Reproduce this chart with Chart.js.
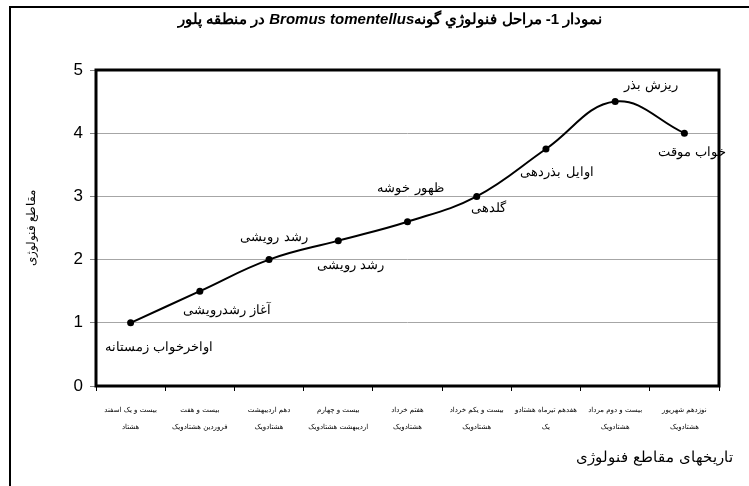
<!DOCTYPE html>
<html lang="fa">
<head>
<meta charset="utf-8">
<title>مراحل فنولوژی گونه Bromus tomentellus</title>
<script src="https://cdn.jsdelivr.net/npm/chart.js@4.4.1/dist/chart.umd.min.js"></script>
<style>
  html, body { margin: 0; padding: 0; background: #fff; }
  canvas { display: block; direction: rtl; }
</style>
</head>
<body>
<canvas id="chart" width="749" height="486"></canvas>
<script>
// dates of the phenological stages (two lines each)
const dateLabels = [
  ['بیست و یک اسفند', 'هشتاد'],
  ['بیست و هفت', 'فروردین هشتادویک'],
  ['دهم اردیبهشت', 'هشتادویک'],
  ['بیست و چهارم', 'اردیبهشت هشتادویک'],
  ['هفتم خرداد', 'هشتادویک'],
  ['بیست و یکم خرداد', 'هشتادویک'],
  ['هفدهم تیرماه هشتادو', 'یک'],
  ['بیست و دوم مرداد', 'هشتادویک'],
  ['نوزدهم شهریور', 'هشتادویک']
];
const stageValues = [1, 1.5, 2, 2.3, 2.6, 3, 3.75, 4.5, 4];
const stageNames = [
  'اواخرخواب زمستانه', 'آغاز رشدرویشی', 'رشد رویشی', 'رشد رویشی', 'ظهور خوشه',
  'گلدهی', 'اوایل بذردهی', 'ریزش بذر', 'خواب موقت'
];
const yMin = 0, yMax = 5, yStep = 1;

const titleParts = [
  { text: 'نمودار 1- مراحل فنولوژي گونه', font: 'bold 15px "Liberation Sans", Arial, sans-serif', dir: 'rtl' },
  { text: 'Bromus tomentellus', font: 'italic bold 15px "Liberation Sans", Arial, sans-serif', dir: 'ltr' },
  { text: ' در منطقه پلور', font: 'bold 15px "Liberation Sans", Arial, sans-serif', dir: 'rtl' }
];
const xTitle = 'تاریخهای مقاطع فنولوژی';

// text and frame drawing that Chart.js has no option for
const decorations = {
  id: 'decorations',
  beforeDraw(chart) {
    const { ctx } = chart;
    ctx.save();
    ctx.strokeStyle = '#000';
    ctx.lineWidth = 2;
    ctx.beginPath();
    ctx.moveTo(10, 486);
    ctx.lineTo(10, 7);
    ctx.lineTo(749, 7);
    ctx.stroke();
    ctx.restore();
  },
  afterDatasetsDraw(chart, args, opts) {
    const { ctx, chartArea: a } = chart;
    const xs = chart.scales.x, ys = chart.scales.y;
    ctx.save();

    // plot frame
    ctx.strokeStyle = '#000';
    ctx.lineWidth = 3;
    ctx.strokeRect(a.left, a.top, a.right - a.left, a.bottom - a.top);

    // stage names next to the points
    ctx.fillStyle = '#000';
    ctx.font = '13px "DejaVu Serif", "Liberation Serif", serif';
    ctx.textAlign = 'center';
    ctx.textBaseline = 'middle';
    ctx.direction = 'rtl';
    stageNames.forEach((name, i) => {
      const [dx, dy] = opts.labelOffsets[i];
      ctx.fillText(name, xs.getPixelForValue(i) + dx, ys.getPixelForValue(stageValues[i]) + dy);
    });

    // chart title, mixed fonts, laid out right to left
    let widths = titleParts.map(p => { ctx.font = p.font; return ctx.measureText(p.text).width; });
    let total = widths.reduce((s, w) => s + w, 0);
    let right = opts.titleCenter + total / 2;
    ctx.textAlign = 'right';
    titleParts.forEach((p, i) => {
      ctx.font = p.font;
      ctx.direction = p.dir;
      ctx.fillText(p.text, right, opts.titleY);
      right -= widths[i];
    });

    // x axis title
    ctx.font = '15px "DejaVu Serif", "Liberation Serif", serif';
    ctx.direction = 'rtl';
    ctx.textAlign = 'right';
    ctx.fillText(xTitle, a.right + 14, 458);

    ctx.restore();
  }
};

new Chart(document.getElementById('chart'), {
  type: 'line',
  data: {
    labels: dateLabels,
    datasets: [{
      data: stageValues,
      borderColor: '#000',
      borderWidth: 2,
      backgroundColor: '#000',
      pointBackgroundColor: '#000',
      pointBorderColor: '#000',
      pointRadius: 3.5,
      pointBorderWidth: 0,
      tension: 0.4,
      fill: false
    }]
  },
  options: {
    responsive: false,
    animation: false,
    devicePixelRatio: 1,
    layout: { padding: { left: 20, right: 30, top: 70, bottom: 0 } },
    plugins: {
      legend: { display: false },
      tooltip: { enabled: false },
      decorations: {
        titleCenter: 390,
        titleY: 20,
        labelOffsets: [[28, 25], [27, 19], [5, -22], [12, 25], [3, -33], [12, 12], [11, 24], [36, -16], [8, 19]]
      }
    },
    scales: {
      x: {
        offset: true,
        border: { display: false },
        grid: {
          offset: true,
          drawOnChartArea: false,
          drawTicks: true,
          tickLength: 5,
          tickColor: '#000'
        },
        ticks: {
          autoSkip: false,
          maxRotation: 0,
          minRotation: 0,
          padding: 10,
          color: '#000',
          font: { family: '"DejaVu Sans", sans-serif', size: 7, lineHeight: 2.5 }
        },
        afterFit(s) { s.height = 100; }
      },
      y: {
        min: yMin,
        max: yMax,
        border: { display: false },
        grid: {
          color: '#a6a6a6',
          lineWidth: 1,
          drawTicks: true,
          tickLength: 6,
          tickColor: '#808080'
        },
        ticks: {
          stepSize: yStep,
          padding: 7,
          color: '#000',
          font: { family: '"Liberation Sans", Arial, sans-serif', size: 17 }
        },
        title: {
          display: true,
          text: 'مقاطع فنولوژی',
          color: '#000',
          font: { family: '"DejaVu Serif", "Liberation Serif", serif', size: 12 },
          padding: { top: 5, bottom: 0 }
        },
        afterFit(s) { s.width = 76; }
      }
    }
  },
  plugins: [decorations]
});
</script>
</body>
</html>
